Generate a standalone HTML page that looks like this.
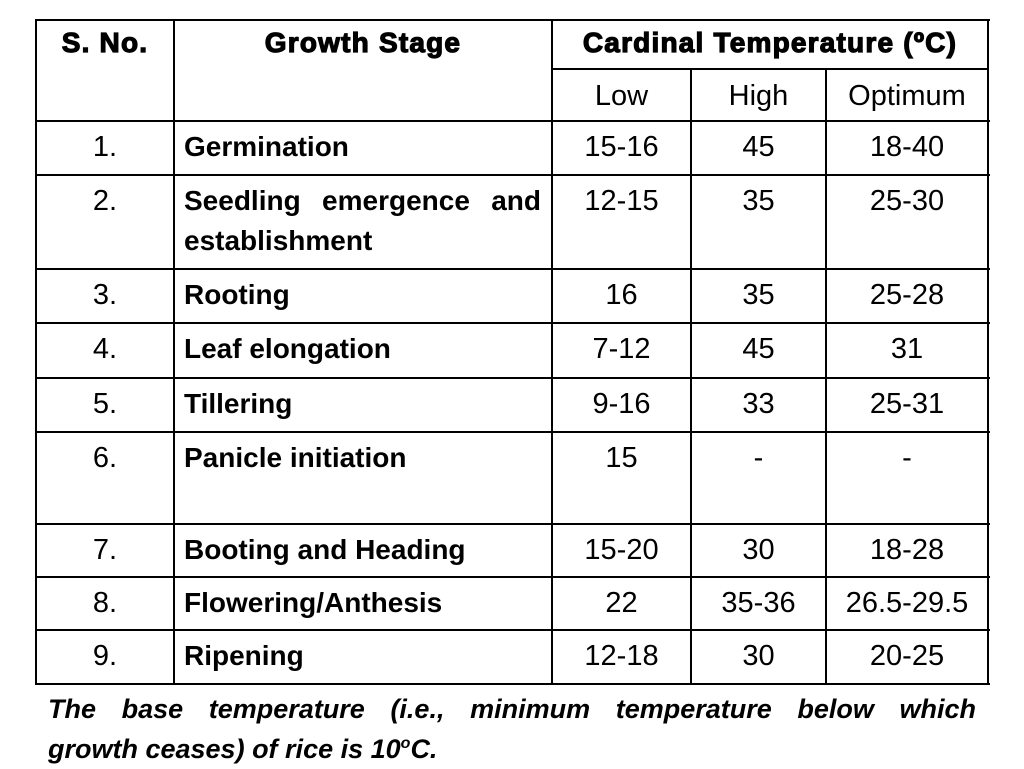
<!DOCTYPE html>
<html><head><meta charset="utf-8"><style>
body{margin:0;width:1024px;height:768px;background:#fff;position:relative;overflow:hidden;font-family:"Liberation Sans",sans-serif;color:#000}
.l{position:absolute;background:#000}
.t{position:absolute;font-size:29px;white-space:nowrap;line-height:32px}
.c{text-align:center}
.b{font-weight:bold;font-size:28px}
.h{font-weight:bold;font-size:28px;letter-spacing:1.2px;-webkit-text-stroke:1.2px #000}
.foot{position:absolute;left:48px;width:928px;font-size:27px;font-weight:bold;font-style:italic;line-height:40px}
.j{text-align:justify;text-align-last:justify;display:block}
</style></head><body>
<div id="tbl"></div>
<div class="foot" style="top:689px"><span class="j">The base temperature (i.e., minimum temperature below which</span>growth ceases) of rice is 10<sup style="font-size:16px;line-height:0">o</sup>C.</div>
<script>
const xs=[36,174,552,691,826,988];
const ys=[20,121,175,269,323,378,432,524,577,630,684];
const nums=["1.","2.","3.","4.","5.","6.","7.","8.","9."];
const stages=["Germination","Seedling emergence and<br>establishment","Rooting","Leaf elongation","Tillering","Panicle initiation","Booting and Heading","Flowering/Anthesis","Ripening"];
const lows=["15-16","12-15","16","7-12","9-16","15","15-20","22","12-18"];
const highs=["45","35","35","45","33","-","30","35-36","30"];
const opts=["18-40","25-30","25-28","31","25-31","-","18-28","26.5-29.5","20-25"];
const T=document.getElementById('tbl');
function line(x,y,w,h,n){const d=document.createElement('div');d.className='l';


d.style.cssText=`left:${x}px;top:${y}px;width:${w}px;height:${h}px`;T.appendChild(d);}
function txt(s,x,y,w,cls,n){const d=document.createElement('div');d.className='t '+cls;


d.style.left=x+'px';d.style.top=y+'px';if(w)d.style.width=w+'px';d.innerHTML=s;T.appendChild(d);}
ys.forEach((y,i)=>line(35,y-1,955,2,'row-border'));
line(552,68,437,2,'subheader-border');
xs.forEach((x,i)=>{const top=(i==3||i==4)?69:20;line(x-1,top,2,684-top,'col-border');});
txt('S. No.',36,27,138,'c h','header-sno');
txt('Growth Stage',174,27,378,'c h','header-stage');
txt('Cardinal Temperature (ºC)',552,27,436,'c h','header-cardinal');
txt('Low',552,80,139,'c','header-low');
txt('High',691,80,135,'c','header-high');
txt('Optimum',826,80,162,'c','header-optimum');
for(let i=0;i<9;i++){const y=ys[i+1]+10;
txt(nums[i],36,y,138,'c','row-number');
if(i==1){txt('<span class="j">Seedling emergence and</span>',184,y,357,'b','row-stage');txt('establishment',184,y+40,0,'b','row-stage');}
else txt(stages[i],184,y,0,'b','row-stage');
txt(lows[i],552,y,139,'c','row-low');
txt(highs[i],691,y,135,'c','row-high');
txt(opts[i],826,y,162,'c','row-optimum');}
</script>
</body></html>
